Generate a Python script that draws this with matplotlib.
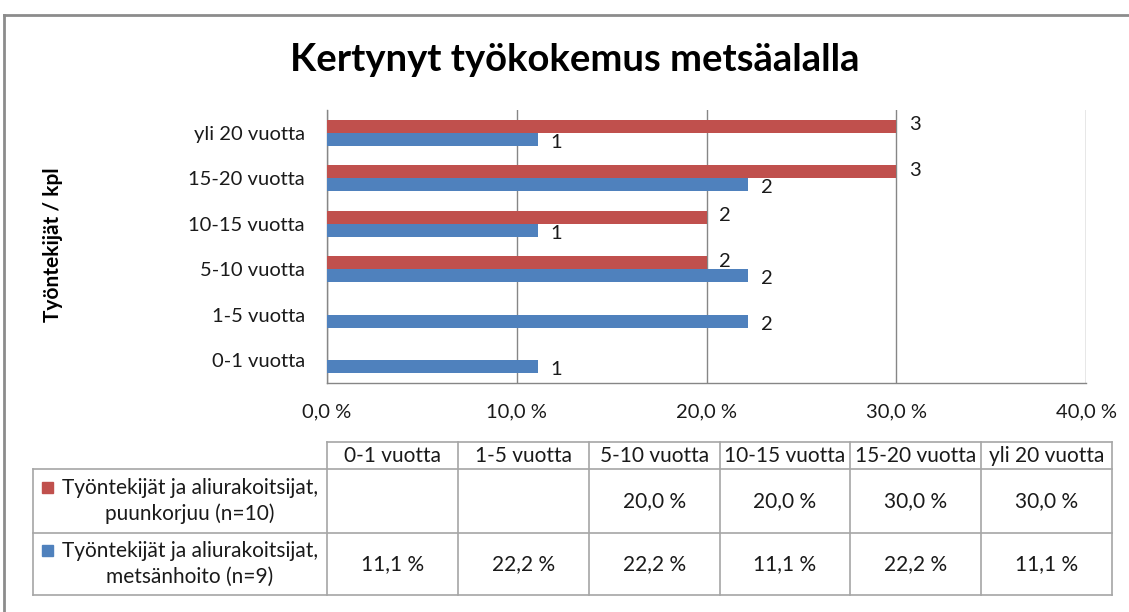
import matplotlib
matplotlib.use("Agg")
import matplotlib.pyplot as plt
from matplotlib.lines import Line2D
from matplotlib.patches import Rectangle

# ---- data ----
categories = ["0-1 vuotta", "1-5 vuotta", "5-10 vuotta", "10-15 vuotta", "15-20 vuotta", "yli 20 vuotta"]
series_names = ["Työntekijät ja aliurakoitsijat,\npuunkorjuu (n=10)",
                "Työntekijät ja aliurakoitsijat,\nmetsänhoito (n=9)"]
red_pct = [None, None, 20.0, 20.0, 30.0, 30.0]
blue_pct = [11.1, 22.2, 22.2, 11.1, 22.2, 11.1]
red_counts = [None, None, 2, 2, 3, 3]
blue_counts = [1, 2, 2, 1, 2, 1]
x_ticks = [0, 10, 20, 30, 40]
title = "Kertynyt työkokemus metsäalalla"
y_label = "Työntekijät / kpl"

RED = "#C0504D"
BLUE = "#4F81BD"
GRID = "#868686"
TXT = "#1a1a1a"
FONT = "Lato"
FS = 14.5
FS_T = 15
plt.rcParams["font.family"] = [FONT, "DejaVu Sans"]

W, H = 1129, 612
fig = plt.figure(figsize=(W / 100, H / 100), dpi=100)

def fx(px):
    return px / W

def fy(py):
    return 1 - py / H

# chart border (top and left only visible)
fig.add_artist(Line2D([fx(4), fx(1129)], [fy(15), fy(15)], color="#8c8c8c", lw=2.0))
fig.add_artist(Line2D([fx(4), fx(4)], [fy(15), fy(612)], color="#8c8c8c", lw=2.0))

# ---- axes ----
left, right, top, bottom = 327, 1086, 110, 383
ax = fig.add_axes([fx(left), fy(bottom), fx(right - left), (bottom - top) / H])
ax.set_xlim(0, 40)
ax.set_ylim(-0.5, len(categories) - 0.5)

bh = 0.286
ypos = list(range(len(categories)))
red_vals = [v if v is not None else 0 for v in red_pct]
ax.barh([y + bh / 2 for y in ypos], red_vals, height=bh, color=RED, zorder=3)
ax.barh([y - bh / 2 for y in ypos], blue_pct, height=bh, color=BLUE, zorder=3)

for y, v, c in zip(ypos, red_pct, red_counts):
    if v is not None:
        ax.annotate(str(c), (v, y + bh / 2), xytext=(9, 1), textcoords="offset points",
                    ha="left", va="center", fontsize=FS, color=TXT)
for y, v, c in zip(ypos, blue_pct, blue_counts):
    ax.annotate(str(c), (v, y - bh / 2), xytext=(9, -2), textcoords="offset points",
                ha="left", va="center", fontsize=FS, color=TXT)

ax.set_xticks(x_ticks)
ax.set_xticklabels([f"{t:.1f} %".replace(".", ",") for t in x_ticks])
ax.set_yticks(ypos)
ax.set_yticklabels(categories)
ax.tick_params(axis="both", length=0, labelsize=FS, colors=TXT)
ax.tick_params(axis="x", pad=15)
ax.tick_params(axis="y", pad=16)
ax.xaxis.grid(True, color=GRID, lw=1.0, zorder=0)
for s in ["top", "right"]:
    ax.spines[s].set_visible(False)
for s in ["left", "bottom"]:
    ax.spines[s].set_color(GRID)
    ax.spines[s].set_linewidth(1.0)

fig.text(fx(575), fy(60), title, ha="center", va="center", fontsize=27.5,
         fontweight="bold", color="black")
fig.text(fx(53), fy(245), y_label, ha="center", va="center", rotation=90,
         fontsize=15, fontweight="bold", color="black")

# ---- data table ----
TB = "#A6A6A6"
col_x = [327 + i * (1112 - 327) / 6 for i in range(7)]
row_y = [442, 469, 533, 595]
tleft = 33

def hline(x0, x1, y):
    fig.add_artist(Line2D([fx(x0), fx(x1)], [fy(y), fy(y)], color=TB, lw=1.2))

def vline(x, y0, y1):
    fig.add_artist(Line2D([fx(x), fx(x)], [fy(y0), fy(y1)], color=TB, lw=1.2))

hline(col_x[0], col_x[-1], row_y[0])
for yy in row_y[1:]:
    hline(tleft, col_x[-1], yy)
vline(tleft, row_y[1], row_y[3])
for xx in col_x:
    vline(xx, row_y[0], row_y[3])

for i, cat in enumerate(categories):
    cx = (col_x[i] + col_x[i + 1]) / 2
    fig.text(fx(cx), fy((row_y[0] + row_y[1]) / 2 + 1), cat, ha="center", va="center",
             fontsize=FS_T, color=TXT)
    for r, vals in enumerate([red_pct, blue_pct]):
        v = vals[i]
        if v is not None:
            fig.text(fx(cx), fy((row_y[r + 1] + row_y[r + 2]) / 2),
                     f"{v:.1f} %".replace(".", ","), ha="center", va="center",
                     fontsize=FS_T, color=TXT)

for r, (name, colr) in enumerate(zip(series_names, [RED, BLUE])):
    yc = (row_y[r + 1] + row_y[r + 2]) / 2
    fig.text(fx(190), fy(yc), name, ha="center", va="center",
             multialignment="center", fontsize=FS_T, color=TXT, linespacing=1.35)
    sq_top = yc - 19
    fig.add_artist(Rectangle((fx(42), fy(sq_top + 11)), 11 / W, 11 / H,
                             color=colr, transform=fig.transFigure))

fig.savefig("out.png", dpi=100)
